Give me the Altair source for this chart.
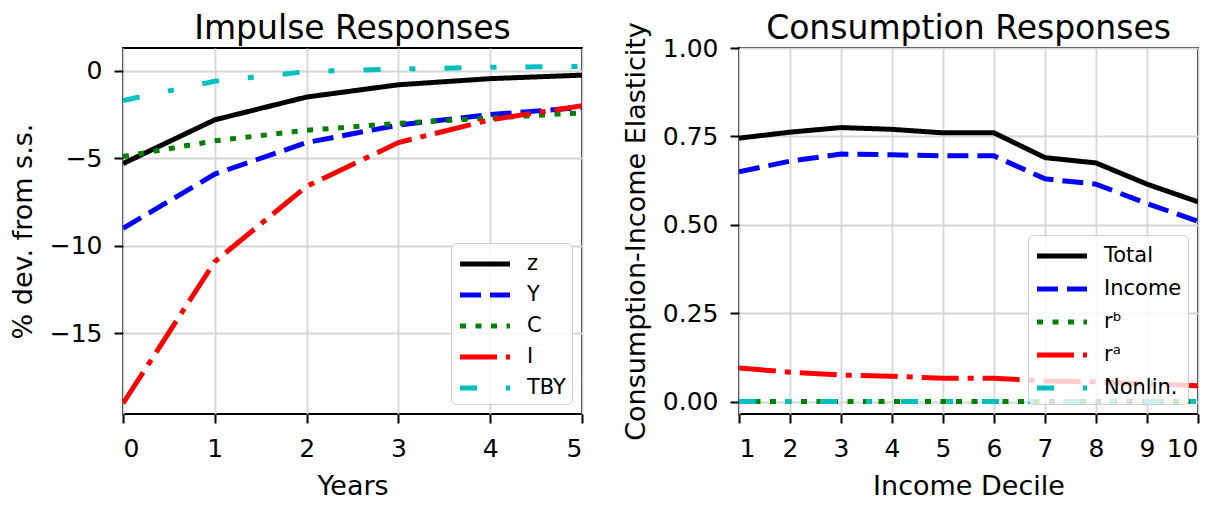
import altair as alt
import pandas as pd

# ---- Left panel data ----
years = [0, 1, 2, 3, 4, 5]
z_vals = [-5.3, -2.8, -1.5, -0.8, -0.45, -0.25]
y_vals = [-9.0, -5.9, -4.1, -3.1, -2.5, -2.1]
c_vals = [-4.9, -4.0, -3.4, -3.0, -2.7, -2.4]
i_vals = [-19.0, -10.9, -6.6, -4.1, -2.8, -2.0]
tby_vals = [-1.7, -0.6, -0.05, 0.1, 0.2, 0.25]
left_names = ["z", "Y", "C", "I", "TBY"]

# ---- Right panel data ----
deciles = [1, 2, 3, 4, 5, 6, 7, 8, 9, 10]
total_vals = [0.745, 0.762, 0.775, 0.770, 0.760, 0.760, 0.690, 0.675, 0.615, 0.565]
income_vals = [0.650, 0.680, 0.700, 0.698, 0.695, 0.695, 0.630, 0.615, 0.560, 0.510]
rb_vals = [0.0, 0.0, 0.0, 0.0, 0.0, 0.0, 0.0, 0.0, 0.0, 0.0]
ra_vals = [0.095, 0.083, 0.075, 0.072, 0.066, 0.066, 0.058, 0.056, 0.050, 0.045]
nonlin_vals = [0.0, 0.0, 0.0, 0.0, 0.0, 0.0, 0.0, 0.0, 0.0, 0.0]
right_names = ["Total", "Income", "rᵇ", "rᵃ", "Nonlin."]

colors = ["black", "#0000ff", "#008000", "#ff0000", "#00bfbf"]
dashes = [[1, 0], [21, 9], [6, 9.5], [37, 9, 6, 9], [17, 29, 6, 29]]

rows = []
for k, (name, vals) in enumerate(zip(left_names, [z_vals, y_vals, c_vals, i_vals, tby_vals])):
    for x, v in zip(years, vals):
        rows.append({"x": x, "v": v, "s": name, "k": k})
left_df = pd.DataFrame(rows)

rows = []
for k, (name, vals) in enumerate(zip(right_names, [total_vals, income_vals, rb_vals, ra_vals, nonlin_vals])):
    for x, v in zip(deciles, vals):
        rows.append({"x": x, "v": v, "s": name, "k": k})
right_df = pd.DataFrame(rows)

FONT = "DejaVu Sans"

def legend(row_pad):
    return alt.Legend(
        title=None, orient="bottom-right", offset=10,
        symbolType="M-2,0H2", symbolStrokeWidth=5, symbolSize=625,
        labelFontSize=21, labelFont=FONT, labelColor="black",
        fillColor="rgba(255,255,255,0.8)", strokeColor="#d0d0d0",
        cornerRadius=5, padding=6, rowPadding=row_pad, symbolOffset=13,
        labelOffset=27,
    )

def panel(df, names, xtitle, ytitle, xdom, ydom, xvals, yvals, yfmt, title, title_dy, row_pad):
    return alt.Chart(df).mark_line(strokeWidth=5, clip=True).encode(
        x=alt.X("x:Q", title=xtitle, scale=alt.Scale(domain=xdom, nice=False),
                axis=alt.Axis(values=xvals, format="d")),
        y=alt.Y("v:Q", title=ytitle, scale=alt.Scale(domain=ydom, nice=False),
                axis=alt.Axis(values=yvals, format=yfmt)),
        color=alt.Color("s:N", scale=alt.Scale(domain=names, range=colors), sort=names,
                        legend=legend(row_pad)),
        strokeDash=alt.StrokeDash("s:N", scale=alt.Scale(domain=names, range=dashes),
                                  sort=names, legend=legend(row_pad)),
        order=alt.Order("k:Q"),
    ).properties(width=459, height=366,
                 title=alt.TitleParams(title, offset=2, dy=title_dy))

left = panel(left_df, left_names, "Years", "% dev. from s.s.", [0, 5], [-19.6, 1.3],
             years, [-15, -10, -5, 0], "d", "Impulse Responses", 0, 6)
right = panel(right_df, right_names, "Income Decile", "Consumption-Income Elasticity",
              [1, 10], [-0.035, 1.0], deciles, [0, 0.25, 0.5, 0.75, 1.0], ".2f",
              "Consumption Responses", 26, 8)

chart = alt.hconcat(left, right, spacing=37).resolve_scale(
    color="independent", strokeDash="independent"
).configure(
    font=FONT, padding={"left": 0, "top": 3, "right": 0, "bottom": 0}
).configure_view(
    stroke="black", strokeWidth=2
).configure_axis(
    domain=False, grid=True, gridColor="#d6d6d6", gridWidth=1.8,
    ticks=True, tickColor="black", tickSize=9, tickWidth=2,
    labelFont=FONT, labelFontSize=25, labelColor="black",
    titleFont=FONT, titleFontSize=27, titleFontWeight="normal", titleColor="black",
).configure_axisY(titlePadding=12, labelPadding=12).configure_axisX(
    titlePadding=12, labelPadding=13
).configure_title(
    font=FONT, fontSize=33, fontWeight="normal", color="black", anchor="middle"
)

chart.save("out.html", embed_options={"renderer": "svg", "actions": False})
